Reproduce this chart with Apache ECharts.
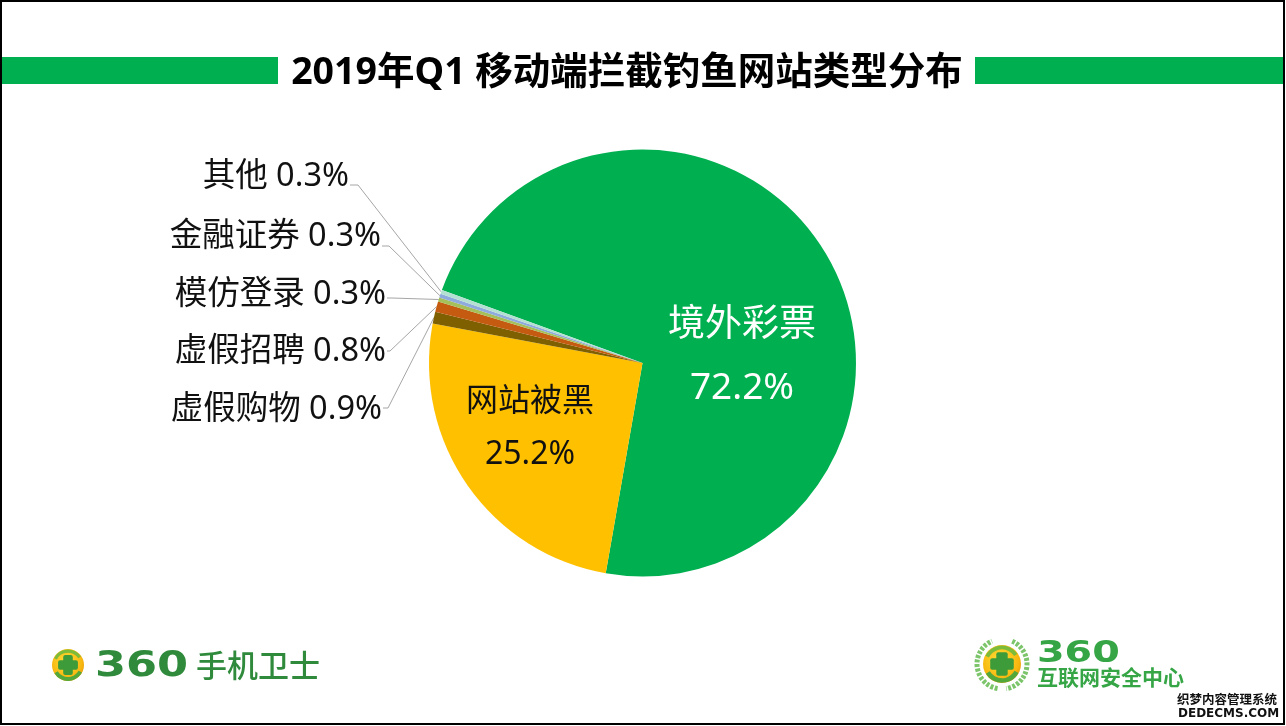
<!DOCTYPE html>
<html>
<head>
<meta charset="utf-8">
<title>2019年Q1 移动端拦截钓鱼网站类型分布</title>
<script src="https://cdn.jsdelivr.net/npm/echarts@6/dist/echarts.min.js"></script>
<style>
  html, body { margin: 0; padding: 0; background: #fff; }
  #chart { width: 1286px; height: 726px; }
</style>
</head>
<body>
<div id="chart"></div>
<script>
// chart data
const categories = ['境外彩票', '网站被黑', '虚假购物', '虚假招聘', '模仿登录', '金融证券', '其他'];
const shares = [72.2, 25.2, 0.9, 0.8, 0.3, 0.3, 0.3];
const sliceColors = ['#00B050', '#FFC000', '#7F6000', '#C55A11', '#A5BF5A', '#8FAADC', '#B4E0D2'];

// where each label sits, same order as categories
const labelSpots = [
  { x: 742, y: 357, align: 'center' },
  { x: 530, y: 428, align: 'center' },
  { x: 382, y: 410, align: 'right', elbow: [388, 408] },
  { x: 386, y: 352, align: 'right', elbow: [390, 351] },
  { x: 386, y: 295, align: 'right', elbow: [392, 298] },
  { x: 381, y: 237, align: 'right', elbow: [389, 246] },
  { x: 349, y: 177, align: 'right', elbow: [358, 185] }
];

const baseFont = '"Noto Sans", "Noto Sans CJK SC", sans-serif';
const cjkBold = '"Noto Sans CJK SC", sans-serif';

let pieData = categories.map(function (name, i) {
  let item = { name: name, value: shares[i], itemStyle: { color: sliceColors[i] } };
  if (i < 2) {
    item.label = {
      formatter: '{b}\n{c}%',
      color: i === 0 ? '#fff' : '#111',
      fontSize: i === 0 ? 37 : 32,
      lineHeight: i === 0 ? 63 : 53
    };
    item.labelLine = { show: false };
  }
  return item;
});

// the round 360 badge used by both logos
function badge(cx, cy, r) {
  let arm = r * 0.62, thick = r * 0.3;
  return [
    { type: 'circle', shape: { cx: cx, cy: cy, r: r }, style: { fill: {
      type: 'radial', x: 0.45, y: 0.4, r: 0.65,
      colorStops: [{ offset: 0, color: '#FFE23A' }, { offset: 0.75, color: '#F7B70F' }, { offset: 1, color: '#E59A0B' }]
    } } },
    { type: 'arc', shape: { cx: cx, cy: cy, r: r * 0.87, startAngle: 0.5, endAngle: 2.6 },
      style: { stroke: '#52A83A', lineWidth: r * 0.24, fill: null } },
    { type: 'arc', shape: { cx: cx, cy: cy, r: r * 0.87, startAngle: 3.6, endAngle: 5.7 },
      style: { stroke: '#7DBB3A', lineWidth: r * 0.2, fill: null } },
    { type: 'rect', shape: { x: cx - arm, y: cy - thick, width: arm * 2, height: thick * 2, r: 2 }, style: { fill: '#3E9B3A' } },
    { type: 'rect', shape: { x: cx - thick, y: cy - arm, width: thick * 2, height: arm * 2, r: 2 }, style: { fill: '#3E9B3A' } }
  ];
}

function wideText(text, x, y, size, color, scaleX) {
  return {
    type: 'text', x: x, y: y, scaleX: scaleX,
    style: { text: text, fill: color, font: 'bold ' + size + 'px "DejaVu Sans", sans-serif', textVerticalAlign: 'middle' }
  };
}

const frameAndBars = [
  { type: 'rect', shape: { x: 1, y: 1, width: 1283, height: 723 }, style: { fill: null, stroke: '#000', lineWidth: 2 } },
  { type: 'rect', shape: { x: 2, y: 57, width: 276, height: 27 }, style: { fill: '#00B050' } },
  { type: 'rect', shape: { x: 975, y: 57, width: 308, height: 27 }, style: { fill: '#00B050' } }
];

const leftLogo = badge(68, 665, 16).concat([
  wideText('360', 95, 667, 36, '#2F8A3C', 1.24),
  { type: 'text', x: 196, y: 665, style: { text: '手机卫士', fill: '#2F8A3C', font: '500 31px ' + cjkBold, textVerticalAlign: 'middle' } }
]);

const rightLogo = [
  // laurel around the badge
  { type: 'arc', shape: { cx: 1002, cy: 664, r: 25, startAngle: 1.75, endAngle: 4.3 },
    style: { stroke: '#7CC56A', lineWidth: 5, lineDash: [3, 1.5], fill: null } },
  { type: 'arc', shape: { cx: 1002, cy: 664, r: 25, startAngle: -1.15, endAngle: 1.4 },
    style: { stroke: '#7CC56A', lineWidth: 5, lineDash: [3, 1.5], fill: null } }
].concat(badge(1002, 664, 19)).concat([
  wideText('360', 1037, 654, 31, '#35A546', 1.28),
  { type: 'text', x: 1037, y: 677, style: { text: '互联网安全中心', fill: '#35A546', font: 'bold 21px ' + cjkBold, textVerticalAlign: 'middle' } }
]);

const watermark = [
  { type: 'text', x: 1177, y: 699, style: { text: '织梦内容管理系统', fill: '#111', stroke: '#fff', lineWidth: 1, font: 'bold 12.5px ' + cjkBold, textVerticalAlign: 'middle' } },
  { type: 'text', x: 1178, y: 714, style: { text: 'DEDECMS.COM', fill: '#111', stroke: '#fff', lineWidth: 1, font: 'bold 12px "DejaVu Sans", sans-serif', textVerticalAlign: 'middle' } }
];

let myChart = echarts.init(document.getElementById('chart'));

let option = {
  animation: false,
  backgroundColor: '#fff',
  textStyle: { fontFamily: baseFont },
  title: {
    text: '2019年Q1 移动端拦截钓鱼网站类型分布',
    left: 622, top: 50, textAlign: 'center',
    textStyle: { fontFamily: '"Noto Sans", "Noto Sans CJK SC", sans-serif', fontSize: 37.5, fontWeight: 'bold', color: '#000' }
  },
  graphic: { elements: frameAndBars.concat(leftLogo, rightLogo, watermark) },
  series: [{
    type: 'pie',
    center: [642.5, 363],
    radius: [0, 213.5],
    startAngle: 160,
    silent: true,
    avoidLabelOverlap: false,
    label: {
      show: true,
      formatter: '{b} {c}%',
      color: '#111',
      fontSize: 32.5,
      fontFamily: baseFont
    },
    labelLine: {
      show: true,
      length: 10,
      length2: 10,
      lineStyle: { color: '#A6A6A6', width: 1 }
    },
    labelLayout: function (params) {
      let spot = labelSpots[params.dataIndex];
      let out = { x: spot.x, y: spot.y, align: spot.align, verticalAlign: 'middle' };
      if (spot.elbow && params.labelLinePoints) {
        out.labelLinePoints = [
          params.labelLinePoints[0],
          spot.elbow,
          [spot.x + 1, spot.elbow[1]]
        ];
      }
      return out;
    },
    data: pieData
  }]
};

myChart.setOption(option);

window.addEventListener('resize', function () {
  myChart.resize();
});
</script>
</body>
</html>
